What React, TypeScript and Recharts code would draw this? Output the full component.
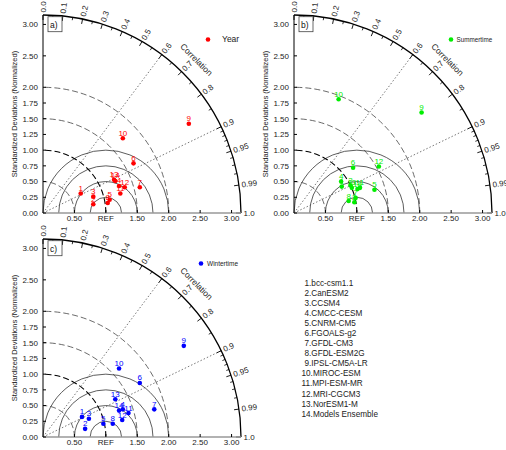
import * as Recharts from 'recharts'
import { ScatterChart, Scatter, XAxis, YAxis, Customized } from 'recharts'

// model names, legend list at bottom-right
const MODELS = [
  'bcc-csm1.1', 'CanESM2', 'CCSM4', 'CMCC-CESM', 'CNRM-CM5', 'FGOALS-g2', 'GFDL-CM3',
  'GFDL-ESM2G', 'IPSL-CM5A-LR', 'MIROC-ESM', 'MPI-ESM-MR', 'MRI-CGCM3', 'NorESM1-M', 'Models Ensemble',
]

// normalized std dev split into x (along REF) and y components
const yearX = [0.60, 0.80, 0.80, 1.21, 1.06, 1.44, 1.54, 1.03, 2.32, 1.27, 1.23, 1.30, 1.13, 1.15]
const yearY = [0.31, 0.14, 0.26, 0.43, 0.21, 0.79, 0.41, 0.16, 1.42, 1.19, 0.31, 0.41, 0.53, 0.51]
const summerX = [0.76, 0.96, 0.90, 0.75, 1.28, 0.94, 0.98, 0.87, 2.03, 0.71, 1.05, 1.35, 0.92, 1.01]
const summerY = [0.42, 0.17, 0.44, 0.50, 0.37, 0.72, 0.24, 0.19, 1.60, 1.81, 0.40, 0.74, 0.40, 0.38]
const winterX = [0.62, 0.67, 0.73, 1.27, 0.96, 1.54, 1.77, 1.11, 2.24, 1.21, 1.36, 1.26, 1.15, 1.21]
const winterY = [0.32, 0.13, 0.29, 0.44, 0.21, 0.86, 0.44, 0.21, 1.45, 1.09, 0.38, 0.27, 0.60, 0.42]

const Y_TICKS = [0, 0.25, 0.5, 0.75, 1, 1.25, 1.5, 1.75, 2, 2.5, 3]
const X_TICKS = [0.5, 1, 1.5, 2, 2.5, 3]
const CORR_MAJOR = [0, 0.1, 0.2, 0.3, 0.4, 0.5, 0.6, 0.7, 0.8, 0.9, 0.95, 0.99, 1]
const CORR_MINOR = [0.05, 0.15, 0.25, 0.35, 0.45, 0.55, 0.65, 0.75, 0.85, 0.91, 0.92, 0.93, 0.94, 0.96, 0.97, 0.98]
const CORR_RAYS = [0.6, 0.9]
const STD_ARCS = [0.5, 1, 1.5, 2]
const RMS_ARCS = [0.25, 0.5, 0.75, 1]
const RMAX = 3.15

const FONT = '"Liberation Sans", Arial, sans-serif'
const RR: any = Recharts

function usePlot() {
  if (RR.usePlotArea) return RR.usePlotArea()
  const off = RR.useOffset ? RR.useOffset() : null
  const w = RR.useChartWidth ? RR.useChartWidth() : 0
  const h = RR.useChartHeight ? RR.useChartHeight() : 0
  if (!off) return null
  return { x: off.left, y: off.top, width: w - off.left - off.right, height: h - off.top - off.bottom }
}

const corrLabel = (c: number) => (c === 0 ? '0.0' : c === 1 ? '1.0' : String(c))

function TaylorGrid({ panel }: { panel: any }) {
  const area = usePlot()
  if (!area || !area.width) return null
  const k = area.width / RMAX
  const ox = area.x
  const oy = area.y + area.height
  const px = (v: number) => ox + v * k
  const py = (v: number) => oy - v * k
  const R = RMAX * k

  const arc = (cx: number, r: number) =>
    `M ${px(cx + r)} ${py(0)} A ${r * k} ${r * k} 0 0 0 ${px(cx - r)} ${py(0)}`

  return (
    <g fontFamily={FONT}>
      {RMS_ARCS.map((r) => (
        <path key={'rms' + r} d={arc(1, r)} fill="none" stroke="#333" strokeWidth={0.8} />
      ))}
      {STD_ARCS.map((r) => (
        <path
          key={'std' + r}
          d={`M ${px(r)} ${py(0)} A ${r * k} ${r * k} 0 0 0 ${px(0)} ${py(r)}`}
          fill="none"
          stroke={r === 1 ? '#000' : '#444'}
          strokeWidth={r === 1 ? 1.1 : 0.8}
          strokeDasharray="6 3"
        />
      ))}
      {CORR_RAYS.map((c) => {
        const t = Math.acos(c)
        return (
          <line key={'ray' + c} x1={ox} y1={oy} x2={ox + R * Math.cos(t)} y2={oy - R * Math.sin(t)}
            stroke="#555" strokeWidth={0.8} strokeDasharray="1.5 2" />
        )
      })}
      <path d={`M ${ox + R} ${oy} A ${R} ${R} 0 0 0 ${ox} ${oy - R}`} fill="none" stroke="#000" strokeWidth={1.3} />
      {CORR_MINOR.map((c) => {
        const t = Math.acos(c)
        return (
          <line key={'mi' + c} x1={ox + R * Math.cos(t)} y1={oy - R * Math.sin(t)}
            x2={ox + (R - 3) * Math.cos(t)} y2={oy - (R - 3) * Math.sin(t)} stroke="#000" strokeWidth={0.8} />
        )
      })}
      {CORR_MAJOR.map((c) => {
        const t = Math.acos(c)
        const lx = ox + (R + 2.5) * Math.cos(t)
        const ly = oy - (R + 2.5) * Math.sin(t)
        return (
          <g key={'ma' + c}>
            <line x1={ox + R * Math.cos(t)} y1={oy - R * Math.sin(t)}
              x2={ox + (R - 5) * Math.cos(t)} y2={oy - (R - 5) * Math.sin(t)} stroke="#000" strokeWidth={0.9} />
            <text x={lx} y={ly} dy="0.35em" fontSize={8} fill="#222"
              transform={`rotate(${(-t * 180) / Math.PI} ${lx} ${ly})`}>{corrLabel(c)}</text>
          </g>
        )
      })}
      <text x={ox + (R + 19) * Math.cos(Math.PI / 4)} y={oy - (R + 19) * Math.sin(Math.PI / 4)}
        dy="0.35em" textAnchor="middle" fontSize={8.5} fill="#222"
        transform={`rotate(45 ${ox + (R + 19) * Math.cos(Math.PI / 4)} ${oy - (R + 19) * Math.sin(Math.PI / 4)})`}>
        Correlation
      </text>
      <text x={ox - 29} y={area.y + area.height / 2} dy="0.35em" textAnchor="middle" fontSize={7.5} fill="#222"
        transform={`rotate(-90 ${ox - 29} ${area.y + area.height / 2})`}>
        Standardized Deviations (Normalized)
      </text>
      <rect x={ox + 5} y={area.y + 1.7} width={14} height={15} fill="#fff" stroke="#444" strokeWidth={0.8} />
      <text x={ox + 7} y={area.y + 12.5} fontSize={8.5} fill="#111">{panel.tag}</text>
      <circle cx={ox + panel.legX} cy={oy - 173.5} r={2.3} fill={panel.color} />
      <text x={ox + panel.legX + panel.legGap} y={oy - 173.5} dy="0.35em" fontSize={panel.legFont} fill="#222">
        {panel.name}
      </text>
    </g>
  )
}

const makeMarker = (color: string) => (props: any) => {
  const { cx, cy, payload } = props
  if (cx == null || cy == null) return <g />
  return (
    <g>
      <circle cx={cx} cy={cy} r={2.3} fill={color} />
      <text x={cx} y={cy - 2.5} textAnchor="middle" fontSize={8} fill={color} fontFamily={FONT}>
        {payload.id}
      </text>
    </g>
  )
}

const PANELS = [
  { tag: 'a)', name: 'Year', color: '#ff0000', xs: yearX, ys: yearY, left: 0, top: 0, legX: 165, legGap: 14, legFont: 8.5 },
  { tag: 'b)', name: 'Summertime', color: '#00ee00', xs: summerX, ys: summerY, left: 251, top: 0, legX: 157, legGap: 5.5, legFont: 6.3 },
  { tag: 'c)', name: 'Wintertime', color: '#0000ff', xs: winterX, ys: winterY, left: 0, top: 223.7, legX: 158, legGap: 6, legFont: 6.5 },
]

function Panel({ panel }: { panel: any }) {
  const data = panel.xs.map((x: number, i: number) => ({ id: i + 1, x, y: panel.ys[i] }))
  const tickStyle = { fontSize: 8, fill: '#222', fontFamily: FONT }
  return (
    <div style={{ position: 'absolute', left: panel.left, top: panel.top }}>
      <ScatterChart width={265} height={225} margin={{ top: 15, right: 24, bottom: 0, left: 0 }} style={{ overflow: 'visible' }}>
        <XAxis
          type="number" dataKey="x" domain={[0, RMAX]} ticks={X_TICKS} allowDataOverflow height={12}
          tickFormatter={(v: number) => (v === 1 ? 'REF' : v.toFixed(2))}
          tick={tickStyle} tickSize={-3} tickMargin={5}
          axisLine={{ stroke: '#999', strokeWidth: 1.5 }} tickLine={{ stroke: '#000' }}
        />
        <YAxis
          type="number" dataKey="y" domain={[0, RMAX]} ticks={Y_TICKS} allowDataOverflow width={43}
          tickFormatter={(v: number) => v.toFixed(2)}
          tick={tickStyle} tickSize={-3} tickMargin={8}
          axisLine={{ stroke: '#000' }} tickLine={{ stroke: '#000' }}
        />
        <Customized component={<TaylorGrid panel={panel} />} />
        <Scatter data={data} shape={makeMarker(panel.color)} isAnimationActive={false} />
      </ScatterChart>
    </div>
  )
}

export default function App() {
  return (
    <div style={{ position: 'absolute', left: 0, top: 0, width: 506, height: 450, overflow: 'hidden', background: '#fff', fontFamily: FONT }}>
      {PANELS.map((p) => <Panel key={p.tag} panel={p} />)}
      <svg width={506} height={450} style={{ position: 'absolute', left: 0, top: 0, pointerEvents: 'none' }}>
        {MODELS.map((m, i) => (
          <text key={m} x={i < 9 ? 304.5 : 301.5} y={283.3 + i * 10.03} dy="0.35em" fontSize={8.2} fill="#222" fontFamily={FONT}>
            {`${i + 1}.${m}`}
          </text>
        ))}
      </svg>
    </div>
  )
}
